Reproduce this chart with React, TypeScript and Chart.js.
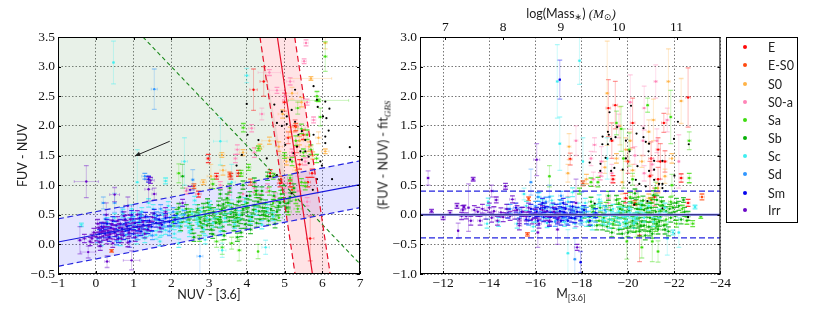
import React, { useEffect, useRef } from "react";
import { Chart, registerables } from "chart.js";
Chart.register(...registerables);

type P = number[];
const typeNames = ["E", "E-S0", "S0", "S0-a", "Sa", "Sb", "Sc", "Sd", "Sm", "Irr"];
const typeColors = ["#ff0a0a", "#ff4a10", "#ffb347", "#ff85b8", "#3fdc10", "#08b008", "#40eef0", "#3097ff", "#0505ee", "#6a08c8"];

// left panel: NUV-[3.6], FUV-NUV, x error, y error
const leftE: P[] = [[2.98,1.45,.05,.07],[4.18,2.61,.1,.35],[4.45,2.75,.1,.25],[5.73,1.2,.07,.07],[3.78,1.2,.06,.05],[3.58,1.15,.05,.05],[2.72,.85,.07,.05],[5.68,.1,.1,.38],[4.88,1.03,.07,.06],[5.15,1.03,.07,.06],[5.28,2,.08,.1],[5.33,1.65,.06,.1],[5.1,1.8,.06,.1],[5.5,1.85,.06,.08],[4.62,1.2,.07,.06],[5.4,1.35,.07,.08],[5.62,1.05,.07,.08],[3.2,1.15,.06,.05],[5,2.4,.05,.15]];
const leftES0: P[] = [[.42,-.11,.03,.02],[3.55,1.18,.05,.04],[4.9,1.1,.06,.05],[5.3,1.98,.06,.06],[2.6,.98,.05,.04],[4.1,1.05,.05,.05],[5.2,.92,.06,.05]];
const leftS0: P[] = [[5.7,2.8,.55,.03],[6.08,3.4,.05,.1],[3.05,1.15,.1,.2],[3.37,1.25,.08,.08],[3.34,1.51,.08,.04],[2.85,1.05,.08,.04],[5.9,1.8,.07,.1],[6.08,1.57,.1,.04],[5.2,2.55,.15,.1],[5.45,2.4,.1,.08],[4.95,2.2,.12,.07],[4.6,1.75,.2,.06],[4.85,1.65,.1,.08],[5.15,1.9,.1,.08],[5.4,1.75,.1,.07],[5.65,1.65,.1,.08],[5.75,1.5,.08,.06],[5.3,1.25,.08,.05],[4.35,1.65,.1,.04],[3.9,1.55,.1,.05],[5.05,1.4,.08,.06]];
const leftS0a: P[] = [[5.52,3.09,.06,.04],[5.57,3.4,.06,.05],[3.75,1.6,.06,.08],[3.7,1.45,.05,.07],[4.13,1.96,.08,.06],[4.2,1.55,.06,.08],[4.6,2.9,.3,.05],[4.8,2.6,.2,.05],[5.77,2.1,.06,.05],[4.4,2.2,.06,.1],[5.15,2.75,.1,.06],[5,2.5,.1,.06],[5.6,2.4,.07,.05],[3.9,.85,.06,.1],[4.2,.95,.06,.07],[4.35,.78,.06,.07],[4.55,.95,.06,.07],[4.75,.8,.07,.07],[5,.95,.07,.08],[5.4,.82,.08,.08],[5.6,.72,.08,.07],[3.55,.9,.05,.07],[3.3,1,.05,.06],[5.2,1.55,.07,.06],[5.55,1.4,.07,.06],[5.35,.9,.05,.25],[2.4,.9,.06,.05]];
const leftSa: P[] = [[3.91,1.97,.05,.07],[4.31,1.62,.08,.04],[6.08,3.17,.05,.25],[5.9,2.43,.8,.02],[5.86,2.5,.05,.08],[5.45,1.95,.1,.08],[5.6,1.85,.08,.08],[5.3,1.75,.08,.08],[5.7,1.6,.06,.08],[5.5,1.55,.08,.06],[5.85,1.45,.06,.07],[5.2,1.4,.06,.07],[5,1.5,.07,.05],[5.95,2.15,.05,.15],[5.35,2.3,.06,.1],[2.2,1.2,.05,.16],[3.2,.05,.06,.1],[3.35,-.05,.05,.12],[3.6,.02,.06,.1],[4.3,-.12,.02,.12],[4.6,.9,.06,.07],[4.85,.45,.1,.05],[5.35,.6,.1,.05],[2.5,.55,.06,.05],[2.75,.42,.06,.05],[3,.58,.06,.05],[3.25,.42,.06,.05],[3.5,.7,.06,.05],[3.75,.45,.07,.05],[4,.65,.07,.05],[4.25,.85,.07,.06],[4.5,.48,.07,.05],[4.7,.7,.07,.06],[4.9,.85,.08,.06],[5.1,.55,.08,.05],[5.3,.75,.08,.06],[5.45,1.05,.08,.06],[4.05,1.3,.06,.05],[3.85,1.2,.06,.05],[4.7,1.15,.07,.05],[5.55,.98,.06,.06],[5.15,1.12,.07,.05],[3.1,1.02,.05,.08],[2.75,.1,.05,.05],[3.8,-.1,.05,.18]];
const leftSb: P[] = [[2.05,.38],[2.15,.52],[2.25,.3],[2.32,.45],[2.4,.6],[2.48,.36],[2.55,.25],[2.62,.48],[2.7,.6],[2.76,.38],[2.82,.28],[2.9,.5],[2.96,.7],[3.02,.42],[3.06,.25],[3.12,.55],[3.18,.36],[3.25,.66],[3.3,.46],[3.36,.3],[3.42,.56],[3.48,.78],[3.54,.4],[3.6,.62],[3.66,.3],[3.72,.5],[3.78,.72],[3.84,.42],[3.9,.6],[3.96,.34],[4.02,.55],[4.08,.82],[4.14,.46],[4.2,.66],[4.26,.36],[4.32,.56],[4.38,.76],[4.44,.5],[4.5,.68],[4.58,.4],[4.64,.6],[4.72,.82],[4.8,.55],[4.88,.7],[4.95,.92],[5.05,.62],[5.15,.8],[5.25,.95],[3.3,.85],[3.55,.95],[3.9,1],[4.2,1.05],[4.4,.9],[2.3,1.15,.05,.2],[4.55,1.15],[3.75,.12],[3.1,.17],[4.1,.25],[2.6,.12],[2.85,.62],[3.4,.15],[3.85,.2],[2.2,.62],[2.95,.32],[3.65,.47],[4.35,.42],[4.75,.35],[2.45,.48],[2.72,.5],[2.88,.4],[3.04,.6],[3.15,.45],[3.28,.35],[3.34,.58],[3.46,.45],[3.58,.52],[3.7,.6],[3.76,.38],[3.88,.5],[4,.7],[4.06,.4],[4.18,.58],[4.3,.72],[4.42,.62],[4.52,.55],[4.68,.5],[4.84,.65],[4.98,.72],[5.1,.7],[3.38,.68],[3.82,.8],[4.25,.9]];
const leftSc: P[] = [[.47,3.07,.02,.36],[1.1,1.05,.04,.55],[2.35,1.4,.08,.4],[3.3,1.74,.18,.4],[1.85,1.07,.05,.05],[-.38,.33,.05,.03],[3.35,-.1,.1,.12],[4,2.85,.06,.12],[3.6,1.05,.1,.3],[4.5,-.05,.1,.12],[.5,.45],[.6,.24],[.72,.52],[.8,.16],[.9,.38],[1,.47],[1.08,.08],[1.15,.35],[1.22,.55],[1.3,.1],[1.36,.3],[1.45,.22],[1.52,.6],[1.6,.16],[1.68,.33],[1.78,.5],[1.85,.24],[1.92,.65],[2,.33],[2.08,.18],[2.15,.48],[2.22,.28],[2.3,.58],[2.4,.38],[2.48,.2],[2.55,.52],[2.62,.74],[2.7,.34],[2.78,.55],[2.86,.25],[2.95,.45],[3.02,.66],[3.1,.36],[3.2,.52],[3.3,.22],[3.42,.44],[3.55,.6],[3.68,.34],[3.8,.5],[3.95,.72],[4.1,.42],[4.25,.56],[4.4,.33],[4.55,.6],[4.7,.47],[.3,.38],[.15,.05],[1.7,.05],[2.2,.02],[2.9,.08],[.95,.6],[1.4,.7],[.65,.05],[1.25,.18],[.75,.34],[1.02,.25],[1.18,.46],[1.34,.2],[1.56,.42],[1.74,.22],[1.96,.46],[2.1,.36],[2.26,.42],[2.5,.3],[2.68,.44]];
const leftSd: P[] = [[1.55,2.62,.08,.34],[2.76,-.2,.08,.3],[2.57,1.09,.04,.17],[.7,.55],[.35,.2],[.55,.06],[.85,.24],[.98,.4],[1.12,.15],[1.2,.48],[1.35,.38],[1.5,.15],[1.62,.48],[1.72,.6],[1.82,.36],[1.95,.22],[2.05,.55],[2.18,.38],[2.35,.5],[.25,.43],[.05,.1],[.5,.7,.05,.16],[1.3,1.15,.08,.05],[.2,.7,.05,.1]];
const leftSm: P[] = [[.2,.28],[.25,.18],[.3,.35],[.36,.12],[.4,.28],[.45,.4],[.5,.2],[.54,.32],[.6,.1],[.65,.35],[.7,.26],[.74,.15],[.78,.42],[.83,.3],[.9,.25],[.95,.5],[1,.18],[1.04,.36],[1.1,.3],[1.16,.44],[1.2,.22],[1.26,.33],[1.32,.47],[1.38,.25],[1.42,.4],[1.48,.3],[1.55,.52],[1.6,.36],[1.68,.42],[1.75,.33],[1.85,.45],[1.95,.38],[2.1,.42],[.1,.18],[.15,.3],[1.4,1.1,.1,.05],[.9,.05,.06,.1]];
const leftIrr: P[] = [[-.25,1.06,.32,.27],[.5,.84,.13,.12],[.95,-.27,.22,.16],[-.42,.07,.05,.23],[-.2,-.13,.2,.1],[.3,-.29,.06,.1],[.28,.5,.06,.2],[1.4,.93,.1,.2],[.85,.65,.1,.15],[1.45,1.08,.1,.05],[1.55,.85,.06,.1],[2.3,.7,.08,.06],[2.5,.92,.1,.06],[-.1,.1],[-.05,.2],[.02,.13],[.08,.28],[.1,.04],[.15,.2],[.2,.14],[.22,.3],[.3,.08],[.32,.23],[.38,.17],[.42,.34],[.45,.02],[.48,.25],[.55,.15],[.58,.4],[.62,.28],[.68,.1],[.7,.22],[.75,.48],[.8,.33],[.85,.03],[.88,.2],[.92,.42],[1,.3],[1.05,.12],[1.1,.5],[1.15,.26],[1.25,.38],[1.3,.18],[1.4,.3],[1.5,.46],[1.7,.28],[1.85,.55],[-.3,.1],[-.15,.05],[.05,.35],[.12,-.03]];
const leftBlack: P[] = [[5.77,2.67],[5.28,2.61],[4.73,2.36],[4,2.37],[4.93,2.24],[5.19,2.27],[5.06,2.16],[5.86,2.44],[5.88,2.32],[6.19,2.29],[6.08,2.41],[6.02,2.16],[6.11,2.13],[6.17,1.92],[4.8,2.05],[4.93,2],[5.06,2.03],[5.28,2.07],[4.31,1.76],[4.02,1.85],[3.87,1.51],[3.73,1.33],[4.53,1.45],[6.73,1.64],[6.26,1.1],[5.77,1.85],[6.08,1.82],[6.08,1.71],[5.37,1.85],[5.46,1.91],[5.55,1.76],[5.33,1.65],[5.42,1.57],[5.55,1.57],[5.64,1.48],[5.46,1.43],[5.24,1.54],[5.95,1.4],[5.99,1.33],[5.86,1.1],[5.75,.92],[5.19,.86],[4,.82],[4.62,1.15],[4.8,1.17],[5.35,1.21],[5.64,1.37],[5.02,1.68],[5.15,1.43]];

// right panel: M[3.6], residual, x error, y error
const rightE: P[] = [[-19.15,1.8,.1,.48],[-19.45,1.85,.1,.4],[-22.6,1.98,.1,.5],[-21.55,1.55,.1,.16],[-17.5,.94,.08,.1],[-22.3,.62,.08,.07],[-22.6,.2,.08,.06],[-20.2,1.55,.1,.42],[-19.3,1.25,.08,.3],[-21,.95,.1,.28],[-21.3,1.1,.08,.2],[-21.4,.9,.1,.3],[-20.95,.65,.08,.25],[-21.3,.6,.1,.2],[-19.35,.6,.08,.06],[-21.6,.9,.08,.18],[-21.15,.3,.08,.15],[-20,.9,.08,.2],[-20.5,-.35,.08,.44],[-19.9,.28,.08,.08]];
const rightES0: P[] = [[-15.65,-.33,.08,.03],[-15.7,.27,.05,.03],[-23.2,.3,.1,.05],[-18.05,.53,.08,.04],[-21,.25,.08,.04],[-20.3,.2,.08,.04]];
const rightS0: P[] = [[-19.1,2.05,.08,.88],[-22.3,1.92,.08,.38],[-21.75,2.25,.08,.55],[-17.45,1.15,.08,.22],[-17.4,.7,.08,.15],[-19.65,1.5,.08,.32],[-21.1,1.6,.08,.35],[-20.9,1.4,.08,.2],[-19.9,1.1,.08,.2],[-19.5,.95,.1,.08],[-18.2,.6,.08,.08],[-19.75,.55,.08,.2],[-20.6,.9,.1,.1],[-21.9,.95,.12,.08],[-20.2,.75,.1,.1],[-19,.8,.08,.1],[-21.3,.45,.12,.08],[-20.9,.28,.12,.07],[-21.6,.65,.08,.12],[-20.1,1.25,.08,.15]];
const rightS0a: P[] = [[-21.2,2.25,.08,.28],[-17.75,1.25,.08,.25],[-20.7,1.8,.08,.37],[-20.1,1.9,.08,.46],[-19.6,1.5,.08,.2],[-18.55,1.18,.08,.12],[-18.4,.95,.08,.12],[-18.85,.9,.08,.25],[-18.5,.6,.08,.12],[-20.65,1.25,.08,.25],[-21.7,1.6,.08,.2],[-21.25,1.25,.08,.2],[-20.3,1,.08,.15],[-19.3,.7,.08,.15],[-20.7,.7,.08,.13],[-18.8,.65,.1,.06],[-17.4,.3,.08,.1],[-21.05,.85,.08,.1],[-20.35,.4,.08,.1],[-19.15,.2,.1,.08],[-22.2,.9,.05,.45]];
const rightSa: P[] = [[-19.5,1.55,.05,.2],[-19.7,1.45,.05,.38],[-20.05,1.1,.05,.28],[-19.8,.95,.05,.5],[-20.85,1.85,.05,.12],[-21.85,1.65,.05,.45],[-22.65,1.25,.08,.15],[-22.65,.62,.08,.08],[-21.9,.5,.06,.18],[-20.2,.6,.05,.1],[-21.2,.45,.08,.1],[-20.45,.3,.08,.1],[-18.5,.1,.1,.06],[-18.75,-.1,.1,.07],[-19.05,.15,.1,.06],[-19.35,-.15,.1,.08],[-19.6,.2,.1,.07],[-19.85,-.05,.1,.08],[-20.1,.3,.1,.08],[-20.35,-.28,.12,.1],[-20.55,.1,.1,.08],[-20.8,-.12,.12,.1],[-21,.2,.1,.08],[-21.2,-.2,.12,.08],[-21.4,.08,.1,.08],[-21.65,-.08,.1,.08],[-21.85,.22,.1,.08],[-22.1,-.15,.1,.06],[-22.35,.1,.1,.06],[-22.55,-.1,.08,.06],[-22.8,-.15,.08,.05],[-21.3,-.62,.05,.18],[-19.95,-.45,.05,.3],[-20.6,-.55,.05,.18],[-21.05,-.45,.05,.34],[-18.7,.55,.06,.08],[-17.9,.4,.06,.05],[-16.6,.65,.05,.18],[-18.4,.55,.06,.07],[-23.15,-.03,.06,.03]];
const rightSb: P[] = [[-18.1,.02],[-18.3,-.12],[-18.5,.05],[-18.65,-.18],[-18.8,.12],[-18.95,-.05],[-19.1,-.2],[-19.25,.08],[-19.4,-.1],[-19.5,.25],[-19.6,-.25],[-19.7,.02],[-19.8,.15],[-19.9,-.15],[-20,-.3],[-20.05,.07],[-20.15,.2],[-20.25,-.22],[-20.3,-.05],[-20.4,.1],[-20.5,-.28],[-20.6,-.12],[-20.65,.24],[-20.75,-.35],[-20.8,.03],[-20.9,-.2],[-21,.12],[-21.05,-.32],[-21.15,-.08],[-21.25,.25],[-21.3,-.25],[-21.4,-.02],[-21.5,.16],[-21.55,-.18],[-21.65,.06],[-21.75,-.28],[-21.85,-.05],[-21.95,.12],[-22.05,-.02],[-22.2,.15],[-22.3,-.08],[-22.45,.05],[-22.6,-.02],[-20.2,-.1],[-20.45,.02],[-20.7,-.18],[-20.95,-.05],[-21.2,.05],[-19.3,-.3],[-19.75,-.32],[-18.4,.22],[-22.4,.25,.06,.04],[-21.1,.33],[-20.3,.36],[-19.15,.32],[-19.55,-.05],[-19.95,.05],[-20.1,-.2],[-20.35,.18],[-20.55,-.18],[-20.85,.12],[-20.95,-.28],[-21.1,.0],[-21.35,-.12],[-21.45,.22],[-21.6,-.25],[-21.8,.1],[-19.65,.1],[-20.4,-.15],[-20.7,.08],[-21.25,-.15],[-19.2,-.08],[-18.9,-.18],[-22.1,.2],[-20.6,.16]];
const rightSc: P[] = [[-16.94,2.25,.05,.62],[-17.05,1.2,.05,.45],[-17.9,2.6,.05,.4],[-15.5,.35,.08,.1],[-13.95,.22,.05,.06],[-22.9,.13,.08,.03],[-22.2,-.3,.05,.25],[-21.7,-.4,.05,.28],[-17.4,-.65,.05,.4],[-19.1,.95,.03,.35],[-18.05,.9,.03,.4],[-13.9,-.15],[-14.4,-.12],[-14.8,.1],[-15.2,-.15],[-15.6,.15],[-16,-.05],[-16.3,.18],[-16.5,-.14],[-16.7,.24],[-16.9,-.02],[-17.1,.12],[-17.25,-.12],[-17.4,.22],[-17.55,.02],[-17.7,-.15],[-17.85,.12],[-18,-.05],[-18.15,.2],[-18.3,-.02],[-18.45,-.18],[-18.6,.1],[-18.75,.26],[-18.9,-.08],[-19.05,.05],[-19.2,-.15],[-19.35,.1],[-19.5,-.05],[-19.65,-.15],[-19.8,.05],[-19.95,-.1],[-20.1,.02],[-20.25,-.15],[-20.4,-.02],[-20.55,.12],[-20.7,-.05],[-20.9,.15],[-21.1,-.12],[-21.35,.02],[-21.6,.12],[-21.95,-.3,.1,.04],[-16.15,.3],[-17.6,.38],[-15.9,-.2],[-18.2,-.12],[-18.5,.02],[-18.8,.15],[-19,-.1],[-19.3,-.02],[-19.6,.06],[-19.85,-.12],[-20.05,.12],[-20.3,-.05],[-17.65,.06],[-17.2,-.05],[-16.8,.1],[-16.4,.02],[-18.05,.06]];
const rightSd: P[] = [[-15.8,.55,.06,.22],[-16.6,.3,.05,.2],[-17.7,-.75,.05,.35],[-18,.1,.1,.28],[-14.9,.1],[-15.3,.02],[-15.7,-.1],[-16,.15],[-16.25,-.02],[-16.45,.22],[-16.65,.05],[-16.85,-.12],[-17.05,.18],[-17.2,.02],[-17.35,-.08],[-17.5,.14],[-17.7,.02],[-17.95,-.08],[-18.2,.05],[-18.6,-.05],[-19,.08],[-16.1,.3],[-17.1,.32]];
const rightSm: P[] = [[-17.05,2.28,.03,.33],[-17.95,-.8,.03,.18],[-15.4,.05],[-15.6,-.08],[-15.8,.1],[-15.95,.02],[-16.1,-.1],[-16.2,.1],[-16.35,-.04],[-16.5,.06],[-16.6,-.12],[-16.75,.12],[-16.85,.02],[-16.95,-.08],[-17.05,.06],[-17.15,-.02],[-17.3,.1],[-17.4,-.1],[-17.5,.02],[-17.6,.14],[-17.7,-.06],[-17.8,.05],[-17.95,-.03],[-18.1,.08],[-18.35,-.1],[-18.6,.03],[-16.3,.2],[-17.2,.2],[-14.8,.02],[-15.15,.12],[-16.4,.12],[-16.65,-.04],[-16.9,.1],[-17.1,-.1],[-17.25,.04],[-16.05,.05],[-15.75,-.02],[-17.55,-.05]];
const rightIrr: P[] = [[-11.35,.62,.05,.12],[-11.5,.06,.07,.03],[-12,-.04,.1,.04],[-12.3,.03,.08,.04],[-12.6,.15,.08,.04],[-12.8,-.02,.1,.06],[-12.65,-.27,.03,.13],[-13.1,.12,.05,.4],[-12.9,.13,.06,.03],[-13.3,.6,.08,.03],[-14.1,.4,.08,.1],[-14.7,.48,.08,.05],[-14.3,.25,.08,.05],[-16.05,.93,.13,.27],[-16.1,-.3,.05,.25],[-16.95,-.25,.06,.25],[-17.8,-.55,.12,.05],[-17.75,.2,.08,.4],[-15,.26,.12,.06],[-13.5,.05],[-13.6,-.1],[-13.7,.1],[-13.85,0],[-14,.12],[-14.1,-.05],[-14.2,.06],[-14.35,-.1],[-14.5,.04],[-14.6,-.04],[-14.75,.1],[-14.9,-.02],[-15.1,0],[-15.2,.08],[-15.3,-.07],[-15.45,.05],[-15.6,-.03],[-15.7,.12],[-15.85,-.08],[-16,.02],[-16.15,-.15],[-16.3,.08],[-16.45,-.02],[-16.6,-.1],[-16.8,.05],[-17,-.05],[-13.2,-.1],[-13,-.02,.05,.05],[-12.85,.08],[-13.35,.08],[-15.3,-.18]];
const rightBlack: P[] = [[-19.2,1.73],[-18.9,1.32],[-19.13,1.4],[-19.17,1.35],[-19.53,1.48],[-19.46,1.31],[-18.89,1.19],[-19.13,1.19],[-19.27,1.28],[-18.34,.88],[-18.81,.86],[-18.8,.74],[-19.03,.96],[-19.27,.74],[-19.41,.79],[-19.77,.76],[-20.13,1.84],[-20.37,1.37],[-20.67,1.46],[-20.67,1.31],[-20.77,1.23],[-20.91,1.2],[-20.89,1.07],[-19.91,1.25],[-20.07,1.07],[-19.91,.95],[-20.41,.82],[-20.34,.59],[-20.06,.54],[-20.49,.52],[-20.77,.48],[-21.13,.59],[-20.91,.74],[-21.13,.76],[-21.13,.91],[-21.49,.91],[-21.34,.52],[-21.49,.52],[-21.49,.45],[-21.63,.4],[-21.99,1.28],[-22.16,1.57],[-22.63,1.19],[-22.01,.66],[-22.6,-.04],[-20.27,.17],[-20.49,0],[-18.56,.19],[-20.84,.23],[-21.49,.11]];

const leftByType = [leftE, leftES0, leftS0, leftS0a, leftSa, leftSb, leftSc, leftSd, leftSm, leftIrr];
const rightByType = [rightE, rightES0, rightS0, rightS0a, rightSa, rightSb, rightSc, rightSd, rightSm, rightIrr];

// fitted lines
const blueMid = [[-1, .04], [7, 1.01]];
const blueUp = [[-1, .43], [7, 1.41]];
const blueLow = [[-1, -.37], [7, .62]];
const redMid = [[4.81, 3.5], [5.74, -.5]];
const redLeft = [[4.35, 3.5], [5.28, -.5]];
const redRight = [[5.27, 3.5], [6.21, -.5]];
const greenDiag = [[1.25, 3.5], [7, -.33]];
const greenRegion = [[-1, .43], [5.01, 1.16], [4.35, 3.5], [-1, 3.5]];
const arrowFromTo = [[1.96, 1.74], [1.035, 1.49]];
const fitZero = [[-11, 0], [-24, 0]];
const fitUp = [[-11, .4], [-24, .4]];
const fitLow = [[-11, -.39], [-24, -.39]];

const SERIF = "'Liberation Serif', serif";
const SANS = "Lato, 'Open Sans', sans-serif";
const num = (v: number, d: number) => {
  const s = Math.abs(v).toFixed(d);
  return v < 0 ? "\u2212" + s : s;
};
const xy = (a: number[][]) => a.map(([x, y]) => ({ x, y }));

const line = (pts: number[][], color: string, dash: number[], width: number, order: number) => ({
  data: xy(pts), showLine: true, borderColor: color, borderDash: dash, borderWidth: width,
  pointRadius: 0, fill: false, order, backgroundColor: color,
});
const region = (pts: number[][], color: string, order: number) => ({
  data: xy(pts), showLine: true, borderWidth: 0, borderColor: "transparent", pointRadius: 0,
  fill: "shape", backgroundColor: color, order,
});

const frameAndBars = {
  id: "frameAndBars",
  beforeDatasetDraw(chart: any, args: any) {
    const ds = chart.data.datasets[args.index];
    if (!ds.errBars) return;
    const { ctx, chartArea: a, scales } = chart;
    const X = scales.x, Y = scales.y;
    ctx.save();
    ctx.beginPath();
    ctx.rect(a.left, a.top, a.right - a.left, a.bottom - a.top);
    ctx.clip();
    ctx.strokeStyle = ds.errBars;
    for (const p of ds.data) {
      const px = X.getPixelForValue(p.x), py = Y.getPixelForValue(p.y);
      const x0 = X.getPixelForValue(p.x - p.xe), x1 = X.getPixelForValue(p.x + p.xe);
      const y0 = Y.getPixelForValue(p.y - p.ye), y1 = Y.getPixelForValue(p.y + p.ye);
      ctx.globalAlpha = 0.26; ctx.lineWidth = 1;
      ctx.beginPath();
      ctx.moveTo(x0, py); ctx.lineTo(x1, py);
      ctx.moveTo(px, y0); ctx.lineTo(px, y1);
      ctx.stroke();
      ctx.globalAlpha = 0.32; ctx.lineWidth = 1;
      ctx.beginPath();
      ctx.moveTo(x0, py - 1.4); ctx.lineTo(x0, py + 1.4);
      ctx.moveTo(x1, py - 1.4); ctx.lineTo(x1, py + 1.4);
      ctx.stroke();
      // wide error bars are paler than the tight ones of the main cloud
      ctx.globalAlpha = p.loose ? 0.42 : 0.78; ctx.lineWidth = 1.3;
      ctx.beginPath();
      ctx.moveTo(px - 2.4, y0); ctx.lineTo(px + 2.4, y0);
      ctx.moveTo(px - 2.4, y1); ctx.lineTo(px + 2.4, y1);
      ctx.stroke();
    }
    ctx.restore();
  },
  afterDatasetsDraw(chart: any) {
    const { ctx, chartArea: a, scales } = chart;
    const arrow = chart.options.plugins.frameAndBars?.arrow;
    if (arrow) {
      const x0 = scales.x.getPixelForValue(arrow[0][0]), y0 = scales.y.getPixelForValue(arrow[0][1]);
      const x1 = scales.x.getPixelForValue(arrow[1][0]), y1 = scales.y.getPixelForValue(arrow[1][1]);
      const t = Math.atan2(y1 - y0, x1 - x0);
      ctx.save();
      ctx.strokeStyle = "#222"; ctx.fillStyle = "#222"; ctx.lineWidth = 1;
      ctx.beginPath(); ctx.moveTo(x0, y0); ctx.lineTo(x1, y1); ctx.stroke();
      ctx.beginPath(); ctx.moveTo(x1, y1);
      ctx.lineTo(x1 - 6 * Math.cos(t - .4), y1 - 6 * Math.sin(t - .4));
      ctx.lineTo(x1 - 6 * Math.cos(t + .4), y1 - 6 * Math.sin(t + .4));
      ctx.closePath(); ctx.fill();
      ctx.restore();
    }
    ctx.save();
    ctx.strokeStyle = "#000"; ctx.lineWidth = 1;
    ctx.beginPath();
    for (const t of scales.y.ticks) {
      const p = Math.round(scales.y.getPixelForValue(t.value)) + .5;
      ctx.moveTo(a.left, p); ctx.lineTo(a.left + 3, p);
      ctx.moveTo(a.right, p); ctx.lineTo(a.right - 3, p);
    }
    for (const t of scales.x.ticks) {
      const p = Math.round(scales.x.getPixelForValue(t.value)) + .5;
      ctx.moveTo(p, a.bottom); ctx.lineTo(p, a.bottom - 3);
      if (!scales.x2) { ctx.moveTo(p, a.top); ctx.lineTo(p, a.top + 3); }
    }
    if (scales.x2) for (const t of scales.x2.ticks) {
      const p = Math.round(scales.x2.getPixelForValue(t.value)) + .5;
      ctx.moveTo(p, a.top); ctx.lineTo(p, a.top + 3);
    }
    ctx.stroke();
    ctx.strokeRect(a.left + .5, a.top + .5, a.right - a.left - 1, a.bottom - a.top - 1);
    ctx.restore();
  },
};

const typeSets = (lists: P[][], dx: number, dy: number) => lists.map((list, i) => ({
  label: typeNames[i],
  data: list.map((p) => ({ x: p[0], y: p[1], xe: p[2] ?? dx, ye: p[3] ?? dy, loose: (p[3] ?? 0) > 0.09 })),
  errBars: typeColors[i],
  pointRadius: 1.2, pointBorderWidth: 0,
  pointBackgroundColor: typeColors[i],
  showLine: false,
  order: 12 - i,
}));
const blackSet = (list: P[]) => ({
  data: xy(list), pointRadius: 1.1, pointBorderWidth: 0, pointBackgroundColor: "#000", showLine: false, order: 2,
});

const grid = { color: "rgba(60,60,60,.7)", lineWidth: 1, drawTicks: false };
const tickBase = { color: "#111", font: { family: SERIF, size: 13.5 }, maxRotation: 0, autoSkip: false, includeBounds: false };
const evenTicks = (step: number) => (s: any) => {
  s.ticks = s.ticks.filter((t: any) => Math.abs(t.value / step - Math.round(t.value / step)) < 1e-6);
};

const baseOpts = (extra: any) => ({
  responsive: false, animation: false, events: [],
  plugins: { legend: { display: false }, tooltip: { enabled: false }, title: { display: false }, ...extra.plugins },
  layout: { padding: extra.padding },
  scales: extra.scales,
});

function leftConfig(): any {
  return {
    type: "scatter",
    data: { datasets: [
      region(greenRegion, "rgba(110,170,110,.16)", 30),
      region([blueUp[0], blueUp[1], blueLow[1], blueLow[0]], "rgba(90,90,255,.16)", 29),
      region([redLeft[0], redRight[0], redRight[1], redLeft[1]], "rgba(255,70,80,.15)", 28),
      ...typeSets(leftByType, .05, .07),
      blackSet(leftBlack),
      line(blueMid, "#1818dd", [], 1.2, 1),
      line(blueUp, "#2525e0", [6, 3.5], 1.2, 1),
      line(blueLow, "#2525e0", [6, 3.5], 1.2, 1),
      line(redMid, "#e8102a", [], 1.2, 1),
      line(redLeft, "#e8102a", [6, 3.5], 1.2, 1),
      line(redRight, "#e8102a", [6, 3.5], 1.2, 1),
      line(greenDiag, "#1c8a1c", [4, 3], 1.1, 1),
    ] },
    options: baseOpts({
      padding: { left: 0, right: 10, top: 37, bottom: 0 },
      plugins: { frameAndBars: { arrow: arrowFromTo } },
      scales: {
        x: { type: "linear", min: -1, max: 7, afterFit: (s: any) => { s.height = 38; },
          grid, border: { display: false, dash: [1.5, 2] },
          ticks: { ...tickBase, stepSize: 1, padding: 1, callback: (v: number) => num(v, 0) },
          title: { display: true, text: "NUV - [3.6]", color: "#222", font: { family: SANS, size: 12.5 }, padding: { top: 0, bottom: 10 } } },
        y: { type: "linear", min: -.5, max: 3.5, afterFit: (s: any) => { s.width = 58; },
          grid, border: { display: false, dash: [1.5, 2] },
          ticks: { ...tickBase, stepSize: .5, padding: 3, callback: (v: number) => num(v, 1) },
          title: { display: true, text: "FUV - NUV", color: "#222", font: { family: SANS, size: 12.5 }, padding: { top: 15, bottom: 0 } } },
      },
    }),
    plugins: [frameAndBars],
  };
}

function rightConfig(): any {
  return {
    type: "scatter",
    data: { datasets: [
      ...typeSets(rightByType, .1, .075),
      blackSet(rightBlack),
      line(fitZero, "#aaaaff", [], 2.5, 1.5),
      line(fitZero, "#101060", [], 1, 1),
      line(fitUp, "#2525e0", [6, 3], 1.2, 1),
      line(fitLow, "#2525e0", [6, 3], 1.2, 1),
    ] },
    options: baseOpts({
      padding: { left: 0, right: 10, top: 0, bottom: 0 },
      scales: {
        x: { type: "linear", min: -24, max: -11, reverse: true, afterFit: (s: any) => { s.height = 38; },
          afterBuildTicks: evenTicks(2), grid, border: { display: false, dash: [1.5, 2] },
          ticks: { ...tickBase, stepSize: 2, padding: 1, callback: (v: number) => num(v, 0) } },
        x2: { type: "linear", position: "top", min: 6.563, max: 11.759, afterFit: (s: any) => { s.height = 37; },
          afterBuildTicks: evenTicks(1), grid: { display: false, drawTicks: false }, border: { display: false },
          ticks: { ...tickBase, stepSize: 1, padding: 1, callback: (v: number) => num(v, 0) } },
        y: { type: "linear", min: -1, max: 3, afterFit: (s: any) => { s.width = 50; },
          grid, border: { display: false, dash: [1.5, 2] },
          ticks: { ...tickBase, stepSize: .5, padding: 3, callback: (v: number) => num(v, 1) } },
      },
    }),
    plugins: [frameAndBars],
  };
}

const abs = (s: any): React.CSSProperties => ({ position: "absolute", fontFamily: SANS, color: "#222", whiteSpace: "nowrap", ...s });

export default function App() {
  const a = useRef<HTMLCanvasElement>(null);
  const b = useRef<HTMLCanvasElement>(null);
  useEffect(() => {
    const c1 = new Chart(a.current!, leftConfig());
    const c2 = new Chart(b.current!, rightConfig());
    return () => { c1.destroy(); c2.destroy(); };
  }, []);
  return (
    <div style={{ position: "absolute", left: 0, top: 0, width: 830, height: 312, background: "#fff", overflow: "hidden" }}>
      <canvas ref={a} width={370} height={312} style={{ position: "absolute", left: 0, top: 0 }} />
      <canvas ref={b} width={362} height={312} style={{ position: "absolute", left: 370, top: 0 }} />
      <div style={abs({ left: 571, top: 14, transform: "translate(-50%,-50%)", fontSize: 12.5 })}>
        log(Mass<sub style={{ fontSize: 9, verticalAlign: -2, fontFamily: "'DejaVu Sans'" }}>∗</sub>) <i style={{ fontFamily: SERIF, fontSize: 13 }}>(M</i><sub style={{ fontSize: 9, verticalAlign: -2, fontFamily: "'DejaVu Sans'" }}>⊙</sub><i style={{ fontFamily: SERIF, fontSize: 13 }}>)</i>
      </div>
      <div style={abs({ left: 571, top: 294, transform: "translate(-50%,-50%)", fontSize: 12.5 })}>
        M<sub style={{ fontSize: 9, verticalAlign: -3 }}>[3.6]</sub>
      </div>
      <div style={abs({ left: 384, top: 155, transform: "translate(-50%,-50%) rotate(-90deg)", fontSize: 12.5 })}>
        (FUV - NUV) - fit<sub style={{ fontFamily: SERIF, fontStyle: "italic", fontSize: 9, verticalAlign: -3 }}>GBS</sub>
      </div>
      <div style={{ position: "absolute", left: 726, top: 37, width: 70, height: 184, border: "1px solid #000" }} />
      {typeNames.map((n, i) => {
        const ys = [47, 65.3, 83.7, 101.7, 120, 138, 156, 174, 192.7, 210.3];
        return (
          <React.Fragment key={n}>
            <div style={{ position: "absolute", left: 742.5, top: ys[i] - 2.2, width: 4.4, height: 4.4, borderRadius: "50%", background: typeColors[i] }} />
            <div style={abs({ left: 768, top: ys[i], transform: "translateY(-50%)", fontSize: 12.5 })}>{n}</div>
          </React.Fragment>
        );
      })}
    </div>
  );
}
